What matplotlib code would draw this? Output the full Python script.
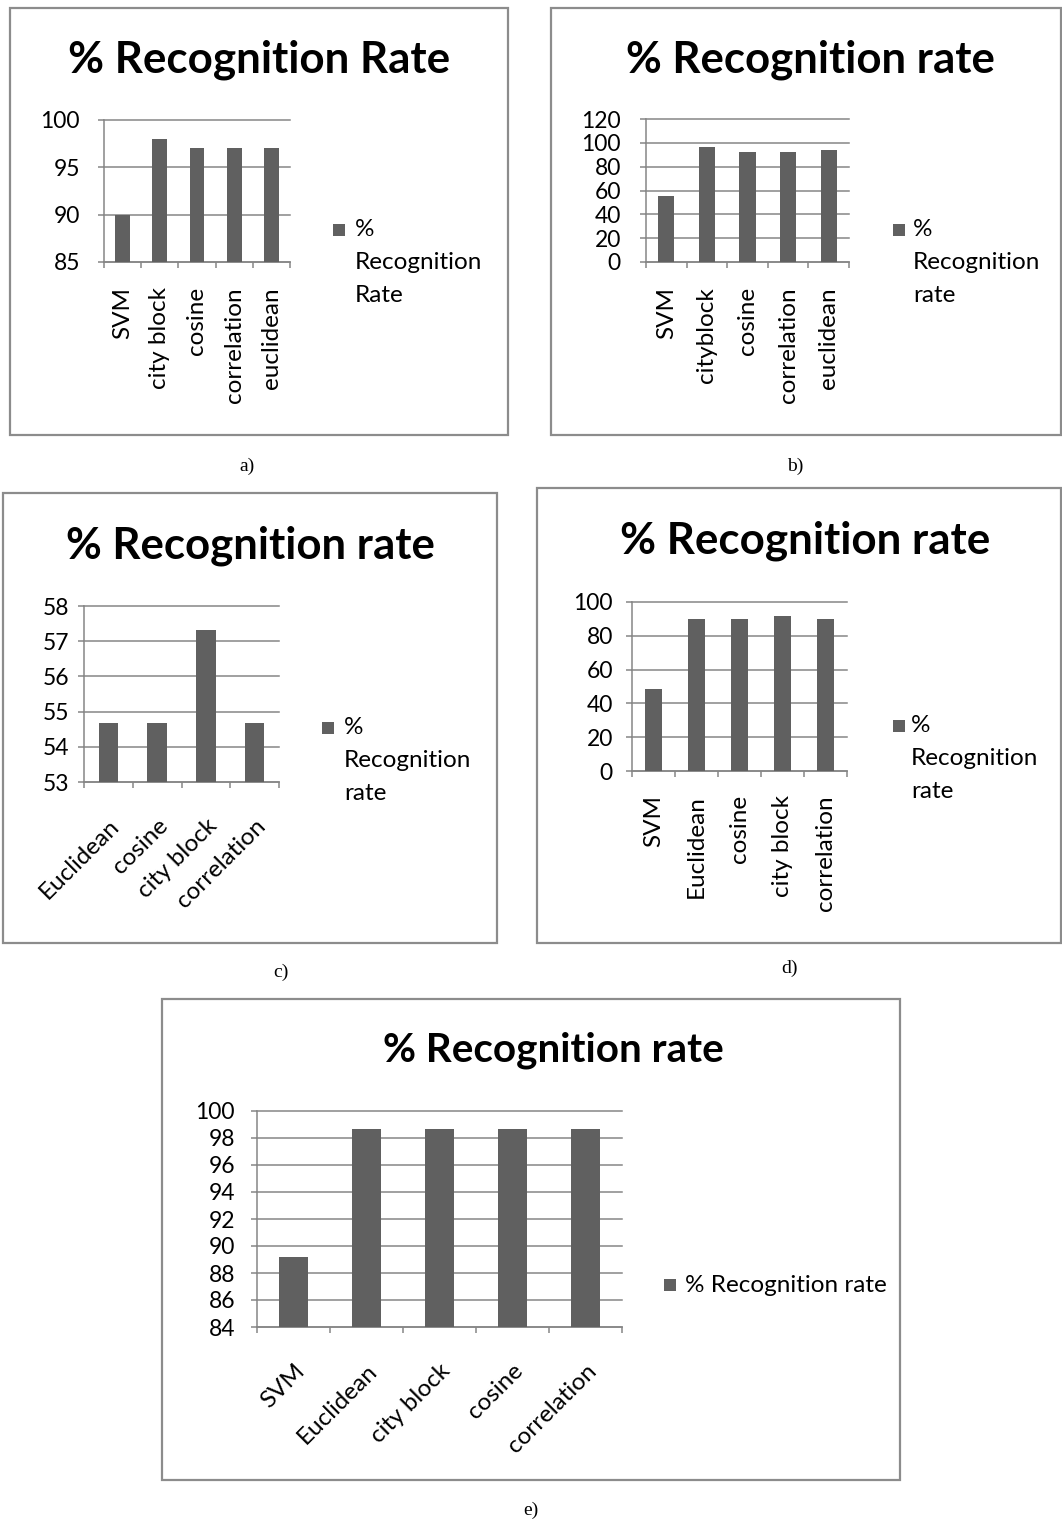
import matplotlib
matplotlib.use("Agg")
import matplotlib.pyplot as plt
from matplotlib.patches import Rectangle
import numpy as np

W, H = 1062, 1526
DPI = 100
BAR = "#606060"
GRID = "#868686"
BORDER = "#8c8c8c"
FONT = "Lato"

# ---------------- data ----------------
cats_a = ["SVM", "city block", "cosine", "correlation", "euclidean"]
vals_a = [90, 98, 97, 97, 97]
yt_a = [85, 90, 95, 100]

cats_b = ["SVM", "cityblock", "cosine", "correlation", "euclidean"]
vals_b = [55.6, 96.6, 92.7, 92.7, 94.1]
yt_b = [0, 20, 40, 60, 80, 100, 120]

cats_c = ["Euclidean", "cosine", "city block", "correlation"]
vals_c = [54.67, 54.67, 57.33, 54.67]
yt_c = [53, 54, 55, 56, 57, 58]

cats_d = ["SVM", "Euclidean", "cosine", "city block", "correlation"]
vals_d = [48.8, 90, 90, 91.5, 90]
yt_d = [0, 20, 40, 60, 80, 100]

cats_e = ["SVM", "Euclidean", "city block", "cosine", "correlation"]
vals_e = [89.2, 98.67, 98.67, 98.67, 98.67]
yt_e = [84, 86, 88, 90, 92, 94, 96, 98, 100]

titles = ["% Recognition Rate", "% Recognition rate", "% Recognition rate",
          "% Recognition rate", "% Recognition rate"]
legend_lines = [["%", "Recognition", "Rate"], ["%", "Recognition", "rate"],
                ["%", "Recognition", "rate"], ["%", "Recognition", "rate"],
                ["% Recognition rate"]]
captions = ["a)", "b)", "c)", "d)", "e)"]

# ---------------- layout (pixels) ----------------
panels = [
    dict(cats=cats_a, vals=vals_a, yt=yt_a, box=(10, 8, 508, 435), ax=(104, 120, 290, 262),
         tc=(259, 60), tw=382, leg=(333, 230, 355), rot=90, xpad=25, ypad=18, cap=(247, 466)),
    dict(cats=cats_b, vals=vals_b, yt=yt_b, box=(551, 8, 1061, 435), ax=(646, 119, 849, 262),
         tc=(810, 60), tw=369, leg=(893, 230, 913), rot=90, xpad=25, ypad=19, cap=(795, 466)),
    dict(cats=cats_c, vals=vals_c, yt=yt_c, box=(3, 493, 497, 943), ax=(84, 606, 279, 782),
         tc=(250, 546), tw=369, leg=(322, 728, 344), rot=45, xpad=33, ypad=9, cap=(281, 972)),
    dict(cats=cats_d, vals=vals_d, yt=yt_d, box=(537, 488, 1061, 943), ax=(632, 602, 847, 771),
         tc=(805, 541), tw=370, leg=(893, 726, 911), rot=90, xpad=24, ypad=13, cap=(790, 968)),
    dict(cats=cats_e, vals=vals_e, yt=yt_e, box=(162, 999, 900, 1480), ax=(257, 1111, 622, 1327),
         tc=(553, 1050), tw=341, leg=(664, 1285, 685), rot=45, xpad=33, ypad=16, cap=(531, 1510)),
]

plt.rcParams["font.family"] = [FONT, "DejaVu Sans"]
fig = plt.figure(figsize=(W / DPI, H / DPI), dpi=DPI)
fig.patch.set_facecolor("white")

def fx(x):
    return x / W

def fy(y):
    return 1 - y / H

PX = 72 / DPI  # points per pixel
title_texts = []
LBL = 17.5
YLBL = 16.5

for i, p in enumerate(panels):
    x0, y0, x1, y1 = p["box"]
    fig.patches.append(Rectangle((fx(x0), fy(y1)), fx(x1 - x0), (y1 - y0) / H,
                                 transform=fig.transFigure, fill=False,
                                 edgecolor=BORDER, linewidth=1.6, zorder=0))
    l, t, r, b = p["ax"]
    ax = fig.add_axes([fx(l), fy(b), fx(r - l), (b - t) / H])
    n = len(p["cats"])
    x = np.arange(n)
    ax.bar(x, p["vals"], width=0.4, color=BAR, zorder=3)
    ax.set_xlim(-0.5, n - 0.5)
    ax.set_ylim(p["yt"][0], p["yt"][-1])
    ax.set_yticks(p["yt"])
    ax.set_yticklabels([str(v) for v in p["yt"]], fontsize=YLBL)
    ax.set_axisbelow(True)
    ax.yaxis.grid(True, color=GRID, linewidth=1.1, zorder=0)
    for s in ["top", "right"]:
        ax.spines[s].set_visible(False)
    for s in ["left", "bottom"]:
        ax.spines[s].set_color(GRID)
        ax.spines[s].set_linewidth(1.1)
    ax.tick_params(axis="y", length=6 * PX, width=1.1, color=GRID, pad=p["ypad"] * PX)
    ax.set_xticks(x)
    if p["rot"] == 90:
        ax.set_xticklabels(p["cats"], fontsize=LBL, rotation=90, rotation_mode="anchor",
                           ha="right", va="center")
    else:
        ax.set_xticklabels(p["cats"], fontsize=LBL, rotation=45, rotation_mode="anchor",
                           ha="right", va="top")
    ax.tick_params(axis="x", which="major", length=0, pad=p["xpad"] * PX)
    ax.set_xticks(np.arange(n + 1) - 0.5, minor=True)
    ax.tick_params(axis="x", which="minor", length=6 * PX, width=1.1, color=GRID, direction="out")
    for gl in ax.get_ygridlines():
        gl.set_clip_on(False)

    # title
    tx, ty = p["tc"]
    tt = fig.text(fx(tx), fy(ty), titles[i], fontsize=28, fontweight="bold",
                  ha="center", va="center", color="black")
    title_texts.append((tt, p["tw"]))

    # legend
    sx, sy, txx = p["leg"]
    fig.patches.append(Rectangle((fx(sx), fy(sy + 6)), fx(12), 12 / H,
                                 transform=fig.transFigure, facecolor=BAR, edgecolor="none"))
    for k, line in enumerate(legend_lines[i]):
        fig.text(fx(txx), fy(sy + 32.5 * k), line, fontsize=LBL, ha="left", va="center")

    # caption
    cx, cy = p["cap"]
    fig.text(fx(cx), fy(cy), captions[i], fontsize=14, family="Liberation Serif",
             ha="center", va="center")

# fit title widths
renderer = fig.canvas.get_renderer()
for tt, target in title_texts:
    w = tt.get_window_extent(renderer).width
    tt.set_fontsize(tt.get_fontsize() * target / w)

fig.savefig("out.png", dpi=DPI, facecolor="white")
